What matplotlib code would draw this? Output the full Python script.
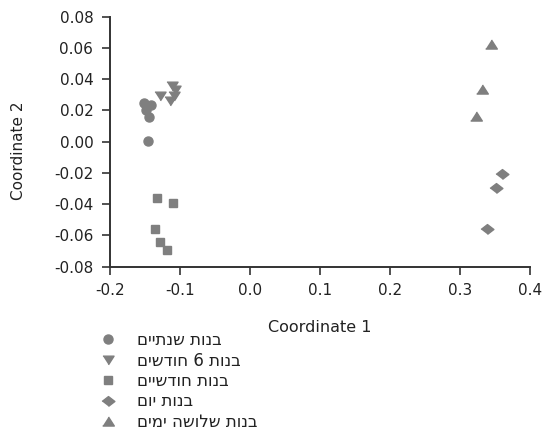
import numpy as np
import matplotlib
matplotlib.use('Agg')
import matplotlib.pyplot as plt

plt.rcParams['font.family'] = ['DejaVu Sans']

# group names (logical order, reversed when drawn since matplotlib has no bidi)
groups = ['בנות שנתיים', 'בנות 6 חודשים', 'בנות חודשיים', 'בנות יום', 'בנות שלושה ימים']

# coordinate 1 / coordinate 2 per group
x_2y = [-0.152, -0.142, -0.148, -0.144, -0.146]
y_2y = [0.0250, 0.0235, 0.0203, 0.0156, 0.0006]

x_6m = [-0.112, -0.107, -0.128, -0.109, -0.115]
y_6m = [0.0356, 0.0331, 0.0292, 0.0292, 0.0262]

x_2m = [-0.133, -0.110, -0.136, -0.128, -0.118]
y_2m = [-0.0358, -0.0394, -0.0561, -0.0640, -0.0693]

x_1d = [0.360, 0.351, 0.339]
y_1d = [-0.0209, -0.0298, -0.0561]

x_3d = [0.344, 0.331, 0.323]
y_3d = [0.0623, 0.0339, 0.0164]

gray = '#7f7f7f'
tri_up = [(-1, -0.78), (1, -0.78), (0, 0.78)]
tri_dn = [(-1, 0.78), (1, 0.78), (0, -0.78)]
diamond = [(-1, 0), (0, 0.77), (1, 0), (0, -0.77)]

series = [
    (x_2y, y_2y, 'o', 6.5),
    (x_6m, y_6m, tri_dn, 8.0),
    (x_2m, y_2m, 's', 6.2),
    (x_1d, y_1d, diamond, 9.2),
    (x_3d, y_3d, tri_up, 8.4),
]

fig = plt.figure(figsize=(5.43, 4.32), dpi=100)
ax = fig.add_axes([110 / 543, 1 - 266.7 / 432, 420 / 543, 250 / 432])

handles = []
for (xs, ys, m, ms), name in zip(series, groups):
    h, = ax.plot(xs, ys, linestyle='none', marker=m, markersize=ms,
                 color=gray, markeredgecolor=gray, label=name[::-1])
    handles.append(h)

ax.set_xlim(-0.2, 0.4)
ax.set_ylim(-0.08, 0.08)
ax.set_xticks(np.arange(-0.2, 0.41, 0.1))
ax.set_yticks(np.arange(-0.08, 0.081, 0.02))
ax.set_xticklabels([f'{v:.1f}' for v in np.arange(-0.2, 0.41, 0.1)])
ax.set_yticklabels([f'{v:.2f}' for v in np.arange(-0.08, 0.081, 0.02)])

for s in ['top', 'right']:
    ax.spines[s].set_visible(False)
for s in ['left', 'bottom']:
    ax.spines[s].set_linewidth(1.4)
    ax.spines[s].set_color('#333333')

ax.tick_params(axis='both', direction='out', length=6, width=1.2,
               color='#333333', labelsize=11, labelcolor='#222222', pad=6)

ax.set_xlabel('Coordinate 1', fontsize=11.5, color='#222222')
ax.set_ylabel('Coordinate 2', fontsize=11, color='#222222')
ax.xaxis.set_label_coords(0.5, (266.7 - 320) / 250)
ax.yaxis.set_label_coords((26 - 110) / 420, (266.7 - 151) / 250)

leg = fig.legend(handles=handles, loc='upper left',
                 bbox_to_anchor=(100 / 543, 1 - 331 / 432),
                 frameon=False, fontsize=12, handlelength=0.95,
                 handletextpad=1.25, labelspacing=0.15, borderpad=0,
                 borderaxespad=0)
for t in leg.get_texts():
    t.set_color('#222222')

fig.savefig('out.png', dpi=100)
